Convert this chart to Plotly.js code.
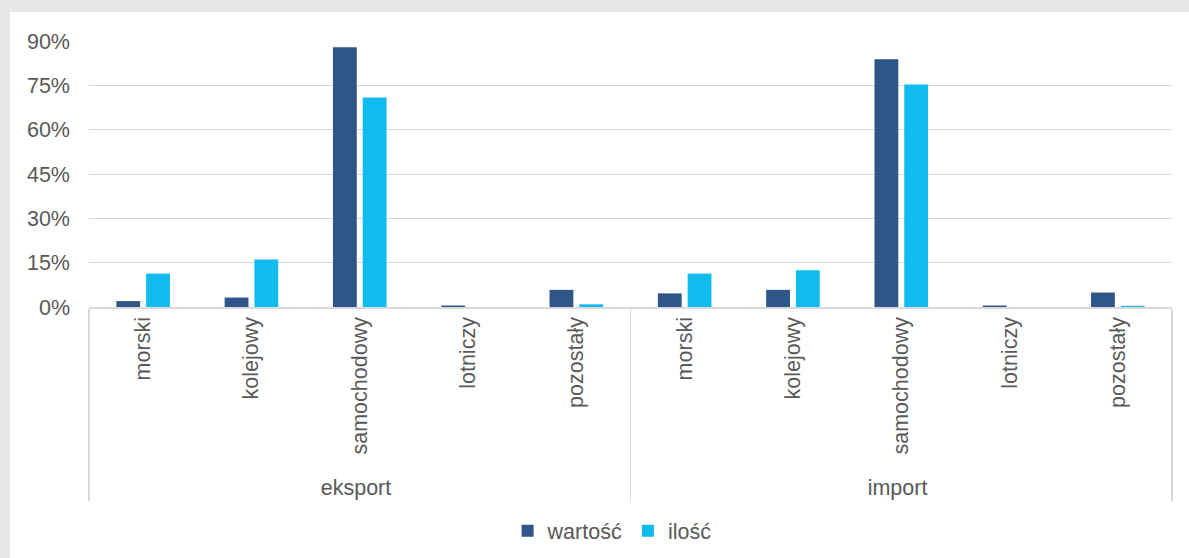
<!DOCTYPE html>
<html>
<head>
<meta charset="utf-8">
<script src="https://cdn.plot.ly/plotly-3.0.1.min.js"></script>
<style>
  html, body { margin: 0; padding: 0; background: #e7e7e7; }
  #chart { position: absolute; left: 10px; top: 12px; width: 1179px; height: 546px; background: #ffffff; }
</style>
</head>
<body>
<div id="chart"></div>
<script>
// Udział rodzajów transportu w handlu (wartość vs ilość), w %
const groups = ['eksport', 'import'];
const modes = ['morski', 'kolejowy', 'samochodowy', 'lotniczy', 'pozostały'];
const wartoscEksport = [2.0, 3.2, 87.9, 0.5, 5.8];
const wartoscImport  = [4.6, 5.8, 83.8, 0.5, 4.9];
const iloscEksport   = [11.3, 16.1, 70.9, 0.0, 0.9];
const iloscImport    = [11.3, 12.4, 75.3, 0.0, 0.4];
const yTicks = [0, 15, 30, 45, 60, 75, 90];

const outer = [];
const inner = [];
groups.forEach(g => modes.forEach(m => { outer.push(g); inner.push(m); }));

const textColor = '#595959';
const font = { family: 'Liberation Sans, Arial, sans-serif', size: 21.5, color: textColor };

const traces = [
  {
    type: 'bar', name: 'wartość',
    x: [outer, inner],
    y: wartoscEksport.concat(wartoscImport),
    marker: { color: '#2e5689' },
    hoverinfo: 'y'
  },
  {
    type: 'bar', name: 'ilość',
    x: [outer, inner],
    y: iloscEksport.concat(iloscImport),
    marker: { color: '#10bcee' },
    hoverinfo: 'y'
  }
];

const layout = {
  width: 1179, height: 546,
  margin: { l: 79, r: 17, t: 29, b: 251, autoexpand: false },
  paper_bgcolor: '#ffffff',
  plot_bgcolor: '#ffffff',
  font: font,
  barmode: 'group',
  bargap: 0.45,
  bargroupgap: 0.2,
  showlegend: true,
  legend: {
    orientation: 'h', x: 0.483, xanchor: 'center', xref: 'paper',
    y: 0.05, yanchor: 'middle', yref: 'container',
    font: font, itemwidth: 30, traceorder: 'normal'
  },
  xaxis: {
    type: 'multicategory',
    tickangle: -90,
    showline: true, linecolor: '#d9d9d9', linewidth: 1.5,
    showgrid: false, ticks: '',
    showdividers: true, dividercolor: '#d9d9d9', dividerwidth: 1.5,
    tickfont: font
  },
  yaxis: {
    range: [0, 90],
    tickvals: yTicks,
    ticktext: yTicks.map(v => v + '%'),
    showgrid: true, gridcolor: '#d9d9d9', gridwidth: 1,
    zeroline: false, showline: false, ticks: '',
    tickfont: font, ticklabelstandoff: 18
  }
};

Plotly.newPlot('chart', traces, layout, { displayModeBar: false, staticPlot: true });
</script>
</body>
</html>
